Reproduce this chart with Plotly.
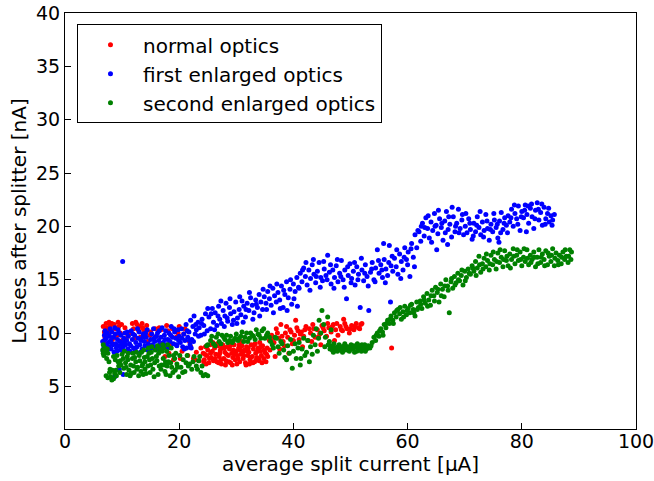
import plotly.graph_objects as go

# (split current [uA], losses [nA])
normal_points = [
    (6.7,10.6),(6.9,10.1),(7.0,9.6),(7.2,10.9),(7.4,10.3),(7.6,9.9),(7.9,10.7),(8.1,10.2),(8.3,9.4),(8.6,10.8),
    (8.9,10.4),(9.1,9.8),(9.4,10.6),(9.7,10.0),(10.0,9.3),(10.5,10.5),(11.0,9.7),(11.5,10.0),(12.0,10.4),(12.3,9.5),
    (12.6,10.8),(12.9,10.2),(13.2,9.6),(13.5,10.9),(13.8,10.3),(14.1,9.9),(14.5,9.2),(15.0,10.1),(15.5,8.6),(16.0,9.7),
    (16.5,10.5),(17.0,9.0),(17.5,7.8),(18.0,10.2),(18.5,8.9),(19.0,7.5),(19.5,9.6),(20.0,10.6),(20.5,8.3),(21.0,10.4),
    (21.5,7.9),(22.0,8.7),(22.5,7.6),(23.0,8.2),(23.5,7.4),
    (6.8,9.1),(7.3,10.5),(7.7,11.0),(8.2,10.9),(8.8,9.6),(9.3,11.0),(9.9,10.8),(11.8,10.9),(12.4,11.0),(13.0,10.6),
    (13.6,10.5),(14.3,10.7),(14.9,9.8),(15.8,10.4),(16.8,10.3),(17.8,10.7),(18.8,10.4),(19.8,10.0),(20.8,9.9),(21.8,9.2),
    (23.8,8.6),(22.8,7.5),(20.2,7.6),(18.2,8.1),
    (24.2,8.1),(24.4,7.5),(24.6,8.7),(24.8,7.9),(25.0,8.4),(25.2,7.2),(25.4,8.9),(25.6,7.7),(25.8,8.3),(26.0,7.4),
    (26.2,8.6),(26.4,8.0),(26.6,7.3),(26.8,8.8),(27.0,7.8),(27.2,8.4),(27.4,7.1),(27.6,8.9),(27.8,7.6),(28.0,8.2),
    (28.2,7.4),(28.4,8.7),(28.6,7.9),(28.8,8.5),(29.0,7.2),(29.2,8.1),(29.4,7.7),(29.6,8.9),(29.8,7.5),(30.0,8.3),
    (30.2,7.9),(30.4,8.6),(30.6,7.3),(30.8,8.0),(31.0,8.8),(31.2,7.6),(31.4,8.4),(31.6,7.2),(31.8,8.7),(32.0,7.9),
    (32.2,8.2),(32.4,7.5),(32.6,8.9),(32.8,7.8),(33.0,8.5),(33.2,7.3),(33.4,8.1),(33.6,7.7),(33.8,8.6),(34.0,7.4),
    (34.2,8.3),(34.4,7.9),(34.6,8.8),(34.8,7.6),(35.0,8.2),(35.2,7.3),(35.4,8.6),
    (24.5,8.0),(25.3,7.6),(26.1,8.9),(27.1,8.1),(27.9,8.6),(28.7,7.3),(29.5,8.4),(30.3,7.6),(31.1,8.2),(32.1,8.6),
    (32.9,7.2),(33.7,8.3),(34.5,7.2),(35.3,8.0),(25.9,9.1),(30.9,9.2),(33.3,9.0),(28.1,7.0),(31.7,7.0),
    (24.3,7.3),(24.9,8.8),(25.5,8.1),(26.3,7.6),(26.9,7.2),(27.5,8.6),(28.3,8.0),(28.9,8.8),(29.7,8.0),(30.1,7.1),
    (30.7,8.4),(31.3,7.9),(31.9,8.3),(32.5,7.7),(33.1,8.9),(33.9,7.6),(34.3,8.7),(34.9,8.4),(35.5,7.8),(35.9,8.4),
    (24.7,7.1),(26.7,9.0),(29.3,7.0),(32.3,7.1),(34.1,9.1),(27.3,7.5),(30.5,8.9),(33.5,7.5),
    (35.8,9.3),(36.2,9.8),(36.6,9.1),(37.0,10.4),(37.4,9.5),(37.8,10.8),(38.2,9.2),(38.6,10.0),(39.0,9.6),(39.4,10.3),
    (39.8,9.0),(40.2,9.8),(40.6,10.5),(41.0,9.4),(41.4,10.1),(41.8,9.7),(42.2,10.6),(42.6,9.3),(43.0,10.0),(43.4,10.8),
    (43.8,9.6),(44.2,10.3),(44.6,9.9),(45.0,10.7),(45.4,10.2),(45.8,9.7),(46.2,10.5),(46.6,10.1),(47.0,10.8),(47.4,10.3),
    (47.8,9.8),(48.2,10.6),(48.6,10.2),(49.0,10.9),(49.4,10.4),(49.8,10.0),(50.2,10.7),(50.6,10.3),(51.0,10.9),(51.4,10.5),
    (51.8,10.8),(37.6,8.5),(39.2,8.1),(41.6,8.7),(36.8,7.8),(44.8,8.9),(47.2,9.3),(57.2,8.6),(40.4,11.2),(48.8,11.3),
    (36.4,9.5),(37.2,10.0),(38.0,9.7),(38.8,10.6),(39.6,10.1),(40.0,9.3),(40.8,10.2),(41.2,9.9),(42.0,10.3),(42.8,10.4),
    (43.6,10.4),(44.4,9.6),(45.2,10.5),(46.0,10.9),(46.8,10.6),(47.6,10.9),(48.4,10.3),(49.2,10.6),(50.0,10.4),(50.8,10.6),
    (51.6,10.4),(52.0,10.9),(38.4,8.8),(43.2,9.2),
]

first_points = [
    (6.6,9.2),(6.8,8.6),(6.9,9.8),(7.0,10.2),(7.1,8.9),(7.2,9.5),(7.3,8.3),(7.4,10.0),(7.6,9.1),(7.7,8.7),
    (7.8,9.7),(8.0,9.3),(8.1,8.5),(8.2,10.1),(8.4,8.9),(8.5,9.6),(8.6,8.2),(8.8,9.9),(8.9,9.0),(9.0,8.6),
    (9.2,9.4),(9.3,10.3),(9.4,8.8),(9.6,9.2),(9.7,8.4),(9.8,9.8),(10.0,9.0),(10.1,16.7),(10.2,8.7),(10.3,9.5),
    (10.5,10.0),(10.6,8.9),(10.8,9.3),(11.0,8.5),(11.1,9.7),(11.3,9.0),(11.5,8.8),(11.6,10.2),(11.8,9.4),(12.0,8.6),
    (12.2,9.8),(12.4,9.1),(12.6,8.7),(12.8,9.5),(13.0,10.1),(13.1,8.9),(13.3,9.3),(13.5,8.5),(13.7,9.9),(13.9,9.2),
    (14.0,8.8),(14.2,9.6),(14.4,10.3),(14.6,9.0),(14.8,8.6),(15.0,9.4),(15.2,9.9),(15.3,8.9),(15.5,10.4),(15.7,9.2),
    (15.9,8.7),(16.0,9.7),(16.2,10.0),(16.4,9.3),(16.6,8.9),(16.8,9.6),(17.0,10.5),(17.2,9.1),(17.4,9.8),(17.6,10.2),
    (17.8,8.9),(18.0,9.4),(18.2,10.0),(18.4,9.2),(18.6,10.6),(18.8,9.6),(19.0,9.0),(19.2,10.1),(19.4,9.5),(19.6,8.8),
    (19.8,10.3),(20.0,9.7),(20.2,9.1),(20.4,10.4),(20.6,8.7),(20.8,9.9),(21.0,9.3),(21.2,10.8),(21.3,8.6),(21.5,9.6),
    (21.7,10.1),(21.9,8.9),(22.0,11.2),(22.2,9.4),(22.4,10.6),(22.6,11.6),(22.8,9.9),(23.0,10.3),(23.3,11.0),(23.5,10.5),
    (23.8,9.8),(24.0,11.3),(24.3,10.7),(24.6,11.8),(24.9,10.2),(8.7,5.9),(10.2,6.1),(9.5,6.6),
    (6.7,8.3),(7.0,9.4),(7.5,8.5),(7.9,10.4),(8.3,9.0),(8.7,10.5),(9.1,8.3),(9.5,10.0),(9.9,8.5),(10.4,9.2),
    (10.9,10.1),(11.4,8.3),(11.9,9.9),(12.3,8.4),(12.7,10.4),(13.2,8.2),(13.6,9.6),(14.1,10.0),(14.5,8.4),(15.1,8.6),
    (15.6,9.5),(16.1,8.5),(16.5,10.2),(17.1,8.7),(17.5,9.4),(18.1,8.6),(18.5,9.8),(19.1,10.4),(19.5,8.9),(19.9,9.3),
    (20.5,9.5),(20.9,8.5),(21.4,10.2),(21.8,9.3),(22.1,8.6),(22.5,9.2),(22.9,10.8),(23.4,9.7),(23.9,10.9),(24.4,9.9),
    (25.2,11.5),(25.5,10.4),(25.8,12.3),(26.0,11.0),(26.3,11.9),(26.6,10.7),(26.9,12.5),(27.1,11.3),(27.4,10.9),(27.7,12.1),
    (28.0,11.6),(28.2,12.8),(28.5,11.1),(28.8,12.4),(29.0,11.8),(29.3,10.8),(29.6,12.0),(29.9,12.9),(30.2,11.4),(30.5,12.2),
    (30.8,11.7),(31.0,13.0),(31.3,12.5),(31.6,11.5),(31.9,12.8),(32.2,12.1),(32.5,13.3),(32.8,12.6),(33.1,11.9),(33.4,13.1),
    (33.7,12.4),(34.0,13.6),(34.3,12.9),(34.6,12.2),(34.9,13.4),
    (25.0,12.3),(25.6,11.8),(26.2,10.3),(26.8,11.6),(27.3,13.0),(27.9,10.6),(28.4,11.4),(28.9,13.2),(29.5,11.2),(30.1,10.9),
    (30.6,13.4),(31.2,11.0),(31.7,12.2),(32.3,13.8),(32.9,11.3),(33.5,12.7),(34.1,11.6),(34.7,14.1),(35.3,12.2),(35.9,14.4),
    (36.5,11.9),(37.1,14.6),(37.7,12.3),(38.3,14.0),(38.9,12.1),(39.5,15.0),(40.1,13.2),(40.7,12.5),
    (35.2,12.8),(35.5,13.9),(35.8,13.2),(36.1,12.6),(36.4,14.2),(36.7,13.5),(37.0,12.9),(37.3,13.8),(37.6,13.1),(37.9,14.4),
    (38.2,12.4),(38.5,13.6),(38.8,14.8),(39.1,13.3),(39.4,14.1),(39.7,12.7),(40.0,14.6),(40.3,13.9),(40.6,15.2),(40.9,14.3),
    (41.2,15.6),(41.5,14.8),(41.8,16.1),(42.1,15.3),(42.4,14.5),(42.7,15.9),(43.0,15.1),(43.3,16.4),(43.6,15.5),(43.9,14.7),
    (44.2,15.8),(44.5,16.6),(44.8,15.2),(45.1,14.9),(45.4,16.0),(45.7,15.4),(46.0,17.3),(46.3,15.7),(46.6,14.6),(46.9,15.9),
    (47.2,15.2),(47.5,16.3),(47.8,14.8),(48.1,15.6),(48.4,16.8),(48.7,15.0),(49.0,15.9),(49.3,13.2),(49.6,15.4),(49.9,16.5),
    (50.2,15.1),(50.5,15.8),(50.8,14.5),(51.1,16.2),(51.4,15.5),(51.7,12.4),(52.0,15.9),(52.3,14.9),(52.6,16.4),(52.9,15.3),
    (53.2,12.1),(53.5,15.7),(53.8,16.6),(54.1,15.0),(54.4,16.1),(54.7,17.8),(55.0,15.6),(55.3,16.4),(55.6,15.2),(55.9,16.9),
    (56.2,16.0),(56.5,15.4),(56.8,18.2),(57.1,16.3),(57.4,15.8),
    (41.0,14.2),(41.6,15.9),(42.2,16.6),(42.9,14.0),(43.5,16.9),(44.0,15.3),(44.7,14.3),(45.3,16.7),(45.9,15.0),(46.5,16.4),
    (47.1,14.2),(47.7,16.9),(48.3,15.3),(48.9,14.3),(49.5,16.2),(50.1,14.7),(50.7,16.6),(51.3,15.0),(51.9,17.0),(52.5,15.6),
    (53.1,14.4),(53.7,16.0),(54.3,14.8),(54.9,16.8),(55.5,15.9),(56.1,14.7),(56.7,16.6),(57.3,17.2),(55.8,18.4),(57.0,12.9),
    (57.7,17.0),(58.0,16.2),(58.3,15.5),(58.6,17.4),(58.9,16.7),(59.2,15.9),(59.5,18.0),(59.8,16.9),(60.1,17.6),(60.4,15.3),
    (60.7,18.4),(61.0,17.1),(61.3,19.2),(61.6,18.0),
    (58.1,17.8),(58.8,15.1),(59.4,17.1),(60.0,16.4),(60.6,17.9),(61.2,16.2),(61.8,19.6),(62.4,20.0),(63.0,19.9),(63.6,21.0),
    (64.2,18.5),(64.8,20.0),(65.4,21.5),(66.0,20.3),(66.6,19.4),(67.2,20.9),(67.8,21.8),(68.4,20.0),(69.0,19.4),(69.6,21.1),
    (65.1,17.8),(67.0,18.3),
    (62.0,19.5),(62.3,18.6),(62.6,20.3),(62.9,19.1),(63.2,20.8),(63.5,19.8),(63.8,18.9),(64.1,20.4),(64.4,19.6),(64.7,21.2),
    (65.0,20.1),(65.3,19.3),(65.6,20.7),(65.9,19.9),(66.2,18.7),(66.5,20.5),(66.8,21.4),(67.1,19.7),(67.4,20.2),(67.7,19.0),
    (68.0,20.9),(68.3,19.5),(68.6,20.3),(68.9,21.6),(69.2,19.8),(69.5,20.6),(69.8,19.2),
    (70.1,20.0),(70.4,19.4),(70.7,20.7),(71.0,19.7),(71.3,18.8),(71.6,20.3),(71.9,19.5),(72.2,20.9),(72.5,19.9),(72.8,19.2),
    (73.1,20.4),(73.4,19.6),(73.7,21.1),(74.0,19.8),(74.3,18.7),(74.6,20.2),(74.9,19.5),(75.2,20.6),(75.5,19.9),(75.8,18.9),
    (76.1,20.5),(76.4,21.3),(76.7,19.7),(77.0,20.8),(77.3,20.1),
    (70.2,21.2),(70.9,20.3),(71.5,19.1),(72.1,20.1),(72.7,21.4),(73.3,19.0),(73.9,20.5),(74.5,19.7),(75.1,21.2),(75.7,20.2),
    (76.3,19.4),(76.9,20.3),(77.5,19.4),(78.1,20.8),(78.7,22.0),(79.3,20.2),(79.9,20.9),(80.5,21.5),(81.1,21.9),(81.7,22.1),
    (82.3,20.7),(82.9,21.6),(83.5,22.1),(84.1,20.2),(84.7,21.7),(85.3,20.1),(80.8,19.5),(76.0,18.5),
    (77.6,21.0),(77.9,20.4),(78.2,21.6),(78.5,20.0),(78.8,21.2),(79.1,20.7),(79.4,21.9),(79.7,19.6),(80.0,21.4),(80.3,20.8),
    (80.6,22.0),(80.9,21.1),(81.2,20.3),(81.5,21.7),(81.8,20.9),(82.1,19.8),(82.4,21.5),(82.7,22.2),(83.0,20.6),(83.3,21.3),
    (83.6,20.1),(83.9,21.8),(84.2,20.7),(84.5,21.2),(84.8,20.4),(85.1,21.0),(85.4,20.6),(85.7,21.1),
]

second_points = [
    (6.6,8.4),(6.7,8.9),(6.8,7.9),(7.0,8.6),(7.1,8.2),(7.3,7.6),(7.5,8.1),(7.7,7.3),
    (7.2,6.0),(7.5,5.8),(7.8,6.3),(8.0,5.9),(8.3,6.5),(8.5,5.7),(8.7,6.2),(9.0,6.0),(8.2,5.6),
    (8.8,7.5),(9.1,7.9),(9.4,6.9),(9.7,7.4),(10.0,8.0),(10.3,6.7),(10.6,7.2),(10.9,7.8),(11.2,6.5),(11.5,7.0),
    (11.8,7.6),(12.1,6.3),(12.4,7.3),(12.7,6.8),(13.0,7.9),(13.3,6.4),(13.6,7.1),(13.9,7.7),(14.2,6.2),(14.5,6.9),
    (14.8,7.5),(15.1,8.2),(15.4,6.6),(15.7,7.2),(16.0,7.8),(16.3,6.1),(16.6,8.5),(16.9,7.0),(17.2,7.6),(17.5,6.4),
    (17.8,8.3),(18.1,7.3),(18.4,6.0),(18.7,6.8),(19.0,7.9),(19.3,6.5),(19.6,7.1),(19.9,5.9),
    (9.6,6.3),(10.8,6.1),(11.9,8.1),(12.9,6.0),(13.8,8.4),(14.6,8.6),(15.6,5.9),(16.2,8.8),(17.1,8.9),(17.9,6.9),
    (18.6,8.6),(19.4,8.1),(11.0,7.5),(12.0,6.9),(14.0,7.3),(15.0,7.0),(16.8,6.6),(17.6,7.3),(10.4,8.3),(13.4,8.2),
    (6.7,8.1),(7.4,8.5),(7.9,6.6),(8.5,7.8),(8.9,6.5),(9.3,7.3),(9.8,7.0),(10.2,7.6),(10.7,6.8),(11.1,8.1),
    (11.6,6.2),(12.2,7.7),(12.6,6.6),(13.1,7.4),(13.5,6.9),(14.0,6.6),(14.4,7.8),(14.9,6.3),(15.3,7.6),(15.8,8.4),
    (16.1,7.4),(16.5,6.9),(17.0,8.3),(17.4,7.0),(17.7,6.1),(18.2,7.9),(18.5,7.2),(18.9,6.3),(19.2,7.6),(19.7,6.8),
    (16.4,8.1),(15.2,8.7),(17.3,8.6),(18.0,8.9),(13.7,6.1),(11.4,6.0),(12.5,8.2),(14.7,8.1),
    (20.3,6.8),(20.7,7.5),(21.0,6.4),(21.4,7.9),(21.8,7.1),(22.2,6.6),(22.6,7.8),(23.0,6.9),(23.4,7.4),(23.8,6.3),
    (24.2,6.0),(24.6,6.1),(25.0,6.0),
    (20.1,7.9),(20.6,6.3),(21.2,7.2),(21.6,6.9),(22.4,7.3),(23.2,6.6),(23.6,7.8),(24.0,6.9),
    (25.0,8.9),(25.5,9.3),(26.0,9.0),(26.5,9.6),(27.0,9.2),(27.5,9.8),(28.0,9.4),(28.5,9.1),(29.0,9.7),(29.5,9.3),
    (30.0,9.9),(30.5,9.5),(31.0,10.1),(31.5,9.6),(32.0,9.2),(32.5,10.0),(33.0,9.7),(33.5,10.3),(34.0,9.8),(34.5,10.2),
    (35.0,9.5),(35.5,10.0),
    (24.8,8.8),(25.7,9.7),(26.3,8.8),(26.8,9.9),(27.3,9.0),(27.8,9.6),(28.3,9.8),(28.8,9.3),(29.3,9.1),(29.8,9.5),
    (30.3,9.3),(30.8,9.7),(31.3,9.2),(31.8,10.0),(32.3,9.5),(32.8,9.8),(33.3,9.4),(33.8,9.9),(34.3,9.5),(34.8,10.4),
    (35.3,9.8),(35.8,9.6),
    (36.0,9.2),(36.5,8.6),(37.0,9.5),(37.5,8.1),(38.0,9.0),(38.5,7.7),(39.0,8.8),(39.5,9.4),(40.0,8.3),(40.5,7.6),
    (41.0,9.1),(41.5,8.5),(42.0,7.9),(42.5,9.3),(43.0,8.7),(43.5,9.8),(44.0,10.4),(44.5,11.2),(45.0,12.1),(45.3,10.8),
    (45.6,9.6),(46.0,11.5),(46.3,9.2),(46.6,10.3),(44.2,8.3),(42.8,7.3),(41.2,7.0),(39.8,6.7),
    (36.3,8.9),(36.8,9.6),(37.3,8.7),(37.8,9.2),(38.3,8.4),(38.8,7.5),(39.3,8.1),(40.3,9.0),(40.8,8.6),(41.3,7.6),
    (41.8,9.5),(42.3,8.2),(43.3,8.0),(43.8,8.9),(44.4,9.5),(44.8,10.0),(45.5,8.7),(46.1,8.9),
    (46.5,8.8),(46.8,8.4),(47.1,9.0),(47.4,8.6),(47.7,8.3),(48.0,8.9),(48.3,8.5),(48.6,8.2),(48.9,8.8),(49.2,8.4),
    (49.5,8.7),(49.8,8.3),(50.1,8.9),(50.4,8.5),(50.7,8.2),(51.0,8.7),(51.3,8.4),(51.6,8.8),(51.9,8.3),(52.2,8.6),
    (52.5,8.9),(52.8,8.5),(53.1,8.8),(53.4,8.6),(47.0,8.2),(48.5,8.7),(50.0,8.6),(51.5,8.5),
    (46.4,8.5),(46.9,8.7),(47.3,8.4),(47.8,8.7),(48.1,8.4),(48.8,8.5),(49.1,8.8),(49.6,8.4),(50.2,8.7),(50.6,8.8),
    (51.1,8.3),(51.8,8.6),(52.0,8.9),(52.6,8.3),(53.0,8.6),(53.6,8.8),(49.0,9.0),(51.2,9.0),
    (53.8,9.1),(54.1,9.6),(54.4,9.3),(54.7,10.0),(55.0,9.7),(55.3,10.4),(55.6,10.1),(55.9,10.8),(56.2,10.5),(56.5,11.2),
    (56.8,10.9),(57.1,11.6),(57.4,11.2),(57.7,11.9),(58.0,11.5),(58.3,12.2),(58.6,11.8),(58.9,11.3),(59.2,12.0),(59.5,12.5),
    (59.8,11.7),(60.1,12.3),(60.4,11.9),(60.7,12.7),(61.0,12.2),(61.3,11.6),(61.6,12.9),(61.9,12.4),
    (62.2,13.0),(62.5,12.3),(62.8,13.4),(63.1,12.8),(63.4,13.7),(63.7,13.1),(64.0,12.6),(64.3,14.0),(64.6,13.5),(64.9,14.3),
    (65.2,13.8),(65.5,12.9),(65.8,14.6),(66.1,14.1),(66.4,13.4),(66.7,15.0),(67.0,14.4),(67.3,11.9),(67.6,14.8),(67.9,14.2),
    (68.2,15.3),(68.5,14.7),(68.8,15.6),(69.1,14.9),(69.4,15.4),(69.7,14.5),(70.0,15.8),(70.3,15.2),(70.6,16.0),
    (54.5,9.8),(55.1,10.2),(55.7,9.8),(56.3,10.9),(56.9,11.3),(57.5,10.9),(58.1,12.1),(58.7,12.4),(59.3,11.5),(59.9,12.1),
    (60.5,12.6),(61.1,11.9),(61.7,12.2),(62.3,12.7),(62.9,13.1),(63.5,12.5),(64.1,13.5),(64.7,13.0),(65.3,14.1),(65.9,13.5),
    (66.5,14.4),(67.1,14.0),(67.7,15.1),(68.3,14.5),(68.9,15.0),(69.5,15.9),(70.1,14.9),
    (71.0,15.5),(71.3,16.3),(71.6,15.8),(71.9,16.7),(72.2,16.1),(72.5,17.2),(72.8,15.7),(73.1,16.5),(73.4,17.0),(73.7,16.2),
    (74.0,16.8),(74.3,15.9),(74.6,17.3),(74.9,16.4),(75.2,16.9),(75.5,16.0),(75.8,17.5),(76.1,16.6),(76.4,17.1),(76.7,16.2),
    (77.0,17.7),(77.3,16.8),(77.6,16.3),(77.9,17.4),(78.2,16.9),(78.5,17.9),(78.8,16.5),(79.1,17.3),(79.4,16.8),(79.7,17.6),
    (80.0,16.3),(80.3,17.1),(80.6,16.7),(80.9,17.8),(81.2,16.4),(81.5,17.3),(81.8,16.9),(82.1,17.6),(82.4,16.2),(82.7,17.1),
    (83.0,17.8),(83.3,16.6),(83.6,17.4),(83.9,16.9),(84.2,17.7),(84.5,16.4),(84.8,17.2),(85.1,16.7),(85.4,17.9),(85.7,16.3),
    (86.0,17.5),(86.3,16.8),(86.6,17.3),(86.9,16.5),(87.2,17.6),(87.5,16.9),(87.8,17.2),(88.1,16.6),(88.4,17.8),(88.6,16.9),
    (70.8,15.6),(71.4,16.1),(72.0,15.4),(72.6,16.4),(73.2,16.0),(73.8,17.4),(74.4,16.5),(75.0,17.6),(75.6,16.7),(76.2,17.8),
    (76.8,16.9),(77.4,17.2),(78.0,16.1),(78.6,17.2),(79.2,17.8),(79.8,16.9),(80.4,17.9),(81.0,17.0),(81.6,16.6),(82.2,17.1),
    (82.8,16.5),(83.4,17.1),(84.0,16.3),(84.6,17.5),(85.2,17.3),(85.8,17.0),(86.4,16.4),(87.0,17.1),(87.6,17.8),(88.2,17.2),
    (88.7,17.6),
]

series_names = ["normal optics", "first enlarged optics", "second enlarged optics"]
series_colors = ["#ff0000", "#0000ff", "#008000"]
x_ticks = [0, 20, 40, 60, 80, 100]
y_ticks = [5, 10, 15, 20, 25, 30, 35, 40]

FONT = "DejaVu Sans"
fig = go.Figure()
for i, (name, color, pts) in enumerate(zip(series_names, series_colors,
                                           [normal_points, first_points, second_points])):
    fig.add_trace(go.Scatter(
        x=[p[0] for p in pts], y=[p[1] for p in pts], mode="markers", name=name,
        legendgroup=f"g{i}",
        marker=dict(color=color, size=5, line=dict(width=0)),
    ))

axis_common = dict(
    showline=True, linecolor="black", linewidth=1, mirror=True,
    ticks="inside", ticklen=6, tickwidth=1, tickcolor="black",
    showgrid=False, zeroline=False, automargin=False,
    ticklabeloverflow="allow",
    tickfont=dict(family=FONT, size=19, color="black"),
)
fig.update_xaxes(range=[0, 100], tickvals=x_ticks, ticklabelstandoff=-5,
                 title=dict(text="average split current [μA]", font=dict(family=FONT, size=20, color="black"), standoff=2),
                 **axis_common)
fig.update_yaxes(range=[1, 40], tickvals=y_ticks,
                 title=dict(text="Losses after splitter [nA]", font=dict(family=FONT, size=20, color="black"), standoff=4),
                 **axis_common)
fig.update_layout(
    width=654, height=481,
    margin=dict(l=65, r=18, t=13, b=52),
    plot_bgcolor="white", paper_bgcolor="white",
    font=dict(family=FONT, size=20, color="black"),
    legend=dict(x=0.021, y=0.973, xanchor="left", yanchor="top",
                bordercolor="black", borderwidth=1, bgcolor="white",
                font=dict(family=FONT, size=20), itemsizing="trace",
                itemwidth=55, tracegroupgap=0),
)
fig.write_html("out.html")
